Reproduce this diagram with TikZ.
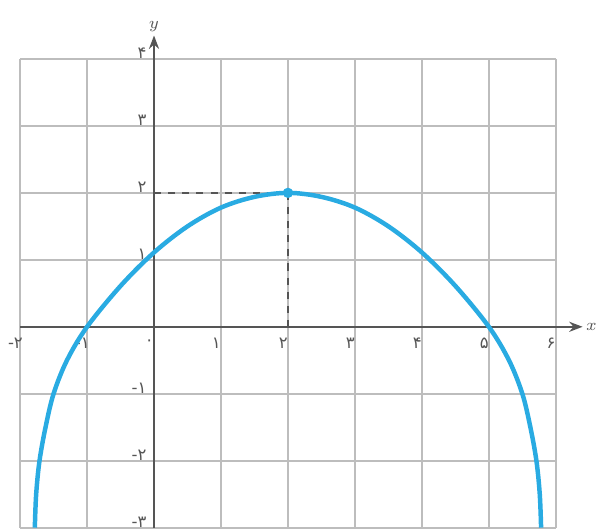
\documentclass[tikz,border=0pt]{standalone}
\usepackage{fontspec}
\usepackage{xcolor}
\usepackage{tikz}
\usetikzlibrary{arrows.meta}
\newfontfamily\farsifont[Script=Arabic]{DejaVu Sans}
\definecolor{gridgray}{HTML}{BDBDBD}
\definecolor{axisgray}{HTML}{555555}
\definecolor{curveblue}{HTML}{29ABE2}
\tikzset{gridline/.style={gridgray,line width=0.7pt},
axis/.style={-{Stealth[length=2mm]},axisgray,line width=0.9pt},
guide/.style={dashed,axisgray,line width=0.6pt},
graph/.style={curveblue,line width=1.9pt},
tick/.style={font=\farsifont\scriptsize,text=axisgray,inner sep=1pt}}
\newcommand{\neglab}[1]{\mbox{-}\mbox{#1}}

\begin{document}
\begin{tikzpicture}
\useasboundingbox (-2.3,-3.06) rectangle (6.6,4.88);
\foreach \x in {-2,...,6} {
 \draw[gridline] (\x,-3)--(\x,4);
}
\foreach \y in {-3,...,4} {
 \draw[gridline] (-2,\y)--(6,\y);
}
\draw[axis] (-2,0)--(6.4,0) node[right,tick,font=\scriptsize] (xlab) {$x$};
\draw[axis] (0,-3)--(0,4.35) node[above,tick,font=\scriptsize] (ylab) {$y$};
% x labels
\foreach \x/\t in {-2/\neglab{۲},-1/\neglab{۱},0/۰,1/۱,2/۲,3/۳,4/۴,5/۵,6/۶} {
 \node[tick] (x\x) at ({\x-0.07},-0.24) {\t};
}
% y labels
\foreach \y/\t in {4/۴,3/۳,2/۲,1/۱,-1/\neglab{۱},-2/\neglab{۲},-3/\neglab{۳}} {
 \node[tick,anchor=east] (y\y) at (-0.07,{\y+0.08}) {\t};
}
\coordinate (top) at (2,2);
\coordinate (ty) at (0,2);
\coordinate (tx) at (2,0);
\draw[guide] (ty)--(top);
\draw[guide] (top)--(tx);
\draw[graph] plot[smooth,tension=0.55] coordinates {(-1.78,-3) (-1.76,-2.5) (-1.71,-2) (-1.62,-1.5) (-1.5,-1) (-1.3,-0.5) (-1,0) (-0.5,0.61) (0,1.11) (0.5,1.5) (1,1.78) (1.5,1.94) (2,2) (2.5,1.94) (3,1.78) (3.5,1.5) (4,1.11) (4.5,0.61) (5,0) (5.3,-0.5) (5.5,-1) (5.62,-1.5) (5.71,-2) (5.76,-2.5) (5.78,-3)};
\fill[curveblue] (top) circle (2.2pt);
\end{tikzpicture}
\end{document}
